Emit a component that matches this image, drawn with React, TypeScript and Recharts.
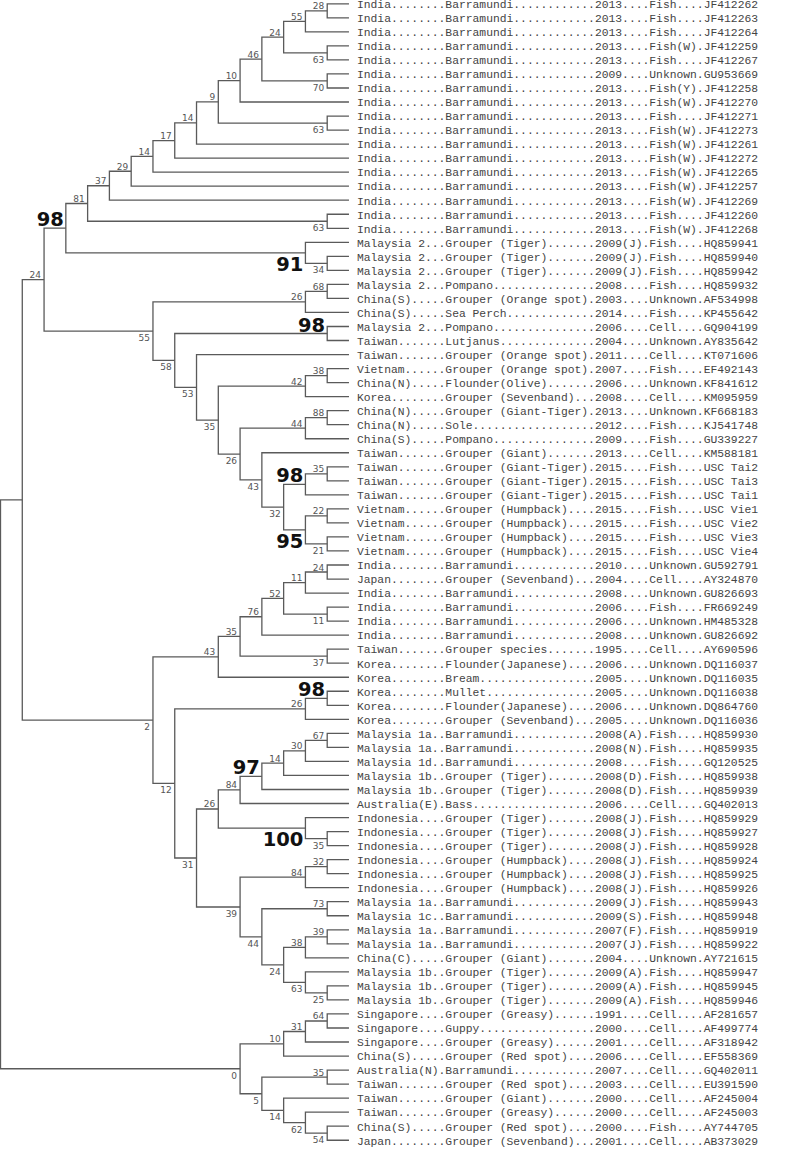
import React from "react";
import { Scatter, ScatterChart, XAxis, YAxis } from "recharts";

const W = 786;
const H = 1149;

// leaf labels, top to bottom (one entry per tip of the tree)
const countries = [
  "India", "India", "India", "India", "India", "India", "India", "India", "India",
  "India", "India", "India", "India", "India", "India", "India", "India",
  "Malaysia 2", "Malaysia 2", "Malaysia 2", "Malaysia 2", "China(S)", "China(S)",
  "Malaysia 2", "Taiwan", "Taiwan", "Vietnam", "China(N)", "Korea", "China(N)",
  "China(N)", "China(S)", "Taiwan", "Taiwan", "Taiwan", "Taiwan",
  "Vietnam", "Vietnam", "Vietnam", "Vietnam",
  "India", "Japan", "India", "India", "India", "India", "Taiwan",
  "Korea", "Korea", "Korea", "Korea", "Korea",
  "Malaysia 1a", "Malaysia 1a", "Malaysia 1d", "Malaysia 1b", "Malaysia 1b", "Australia(E)",
  "Indonesia", "Indonesia", "Indonesia", "Indonesia", "Indonesia", "Indonesia",
  "Malaysia 1a", "Malaysia 1c", "Malaysia 1a", "Malaysia 1a", "China(C)",
  "Malaysia 1b", "Malaysia 1b", "Malaysia 1b",
  "Singapore", "Singapore", "Singapore", "China(S)", "Australia(N)",
  "Taiwan", "Taiwan", "Taiwan", "China(S)", "Japan",
];

const hosts = [
  "Barramundi", "Barramundi", "Barramundi", "Barramundi", "Barramundi", "Barramundi",
  "Barramundi", "Barramundi", "Barramundi", "Barramundi", "Barramundi", "Barramundi",
  "Barramundi", "Barramundi", "Barramundi", "Barramundi", "Barramundi",
  "Grouper (Tiger)", "Grouper (Tiger)", "Grouper (Tiger)",
  "Pompano", "Grouper (Orange spot)", "Sea Perch", "Pompano", "Lutjanus",
  "Grouper (Orange spot)", "Grouper (Orange spot)", "Flounder(Olive)", "Grouper (Sevenband)",
  "Grouper (Giant-Tiger)", "Sole", "Pompano", "Grouper (Giant)",
  "Grouper (Giant-Tiger)", "Grouper (Giant-Tiger)", "Grouper (Giant-Tiger)",
  "Grouper (Humpback)", "Grouper (Humpback)", "Grouper (Humpback)", "Grouper (Humpback)",
  "Barramundi", "Grouper (Sevenband)", "Barramundi", "Barramundi", "Barramundi", "Barramundi",
  "Grouper species", "Flounder(Japanese)", "Bream", "Mullet", "Flounder(Japanese)",
  "Grouper (Sevenband)",
  "Barramundi", "Barramundi", "Barramundi", "Grouper (Tiger)", "Grouper (Tiger)", "Bass",
  "Grouper (Tiger)", "Grouper (Tiger)", "Grouper (Tiger)",
  "Grouper (Humpback)", "Grouper (Humpback)", "Grouper (Humpback)",
  "Barramundi", "Barramundi", "Barramundi", "Barramundi", "Grouper (Giant)",
  "Grouper (Tiger)", "Grouper (Tiger)", "Grouper (Tiger)",
  "Grouper (Greasy)", "Guppy", "Grouper (Greasy)", "Grouper (Red spot)", "Barramundi",
  "Grouper (Red spot)", "Grouper (Giant)", "Grouper (Greasy)", "Grouper (Red spot)",
  "Grouper (Sevenband)",
];

const years = [
  "2013", "2013", "2013", "2013", "2013", "2009", "2013", "2013", "2013",
  "2013", "2013", "2013", "2013", "2013", "2013", "2013", "2013",
  "2009(J)", "2009(J)", "2009(J)",
  "2008", "2003", "2014", "2006", "2004", "2011", "2007", "2006", "2008",
  "2013", "2012", "2009", "2013",
  "2015", "2015", "2015", "2015", "2015", "2015", "2015",
  "2010", "2004", "2008", "2006", "2006", "2008", "1995",
  "2006", "2005", "2005", "2006", "2005",
  "2008(A)", "2008(N)", "2008", "2008(D)", "2008(D)", "2006",
  "2008(J)", "2008(J)", "2008(J)", "2008(J)", "2008(J)", "2008(J)",
  "2009(J)", "2009(S)", "2007(F)", "2007(J)", "2004",
  "2009(A)", "2009(A)", "2009(A)",
  "1991", "2000", "2001", "2006", "2007", "2003", "2000", "2000", "2000", "2001",
];

const sources = [
  "Fish", "Fish", "Fish", "Fish(W)", "Fish", "Unknown", "Fish(Y)", "Fish(W)", "Fish",
  "Fish(W)", "Fish(W)", "Fish(W)", "Fish(W)", "Fish(W)", "Fish(W)", "Fish", "Fish(W)",
  "Fish", "Fish", "Fish",
  "Fish", "Unknown", "Fish", "Cell", "Unknown", "Cell", "Fish", "Unknown", "Cell",
  "Unknown", "Fish", "Fish", "Cell",
  "Fish", "Fish", "Fish", "Fish", "Fish", "Fish", "Fish",
  "Unknown", "Cell", "Unknown", "Fish", "Unknown", "Unknown", "Cell",
  "Unknown", "Unknown", "Unknown", "Unknown", "Unknown",
  "Fish", "Fish", "Fish", "Fish", "Fish", "Cell",
  "Fish", "Fish", "Fish", "Fish", "Fish", "Fish",
  "Fish", "Fish", "Fish", "Fish", "Unknown",
  "Fish", "Fish", "Fish",
  "Cell", "Cell", "Cell", "Cell", "Cell", "Cell", "Cell", "Cell", "Fish", "Cell",
];

const accessions = [
  "JF412262", "JF412263", "JF412264", "JF412259", "JF412267", "GU953669", "JF412258",
  "JF412270", "JF412271", "JF412273", "JF412261", "JF412272", "JF412265", "JF412257",
  "JF412269", "JF412260", "JF412268",
  "HQ859941", "HQ859940", "HQ859942",
  "HQ859932", "AF534998", "KP455642", "GQ904199", "AY835642", "KT071606", "EF492143",
  "KF841612", "KM095959", "KF668183", "KJ541748", "GU339227", "KM588181",
  "USC Tai2", "USC Tai3", "USC Tai1", "USC Vie1", "USC Vie2", "USC Vie3", "USC Vie4",
  "GU592791", "AY324870", "GU826693", "FR669249", "HM485328", "GU826692", "AY690596",
  "DQ116037", "DQ116035", "DQ116038", "DQ864760", "DQ116036",
  "HQ859930", "HQ859935", "GQ120525", "HQ859938", "HQ859939", "GQ402013",
  "HQ859929", "HQ859927", "HQ859928", "HQ859924", "HQ859925", "HQ859926",
  "HQ859943", "HQ859948", "HQ859919", "HQ859922", "AY721615",
  "HQ859947", "HQ859945", "HQ859946",
  "AF281657", "AF499774", "AF318942", "EF558369", "GQ402011",
  "EU391590", "AF245004", "AF245003", "AY744705", "AB373029",
];

// tree: n(level, bootstrap, ...children); numbers are leaf indices
type TreeNode = { lvl: number; bs: number | null; kids: (number | TreeNode)[] };
const n = (lvl: number, bs: number | null, ...kids: (number | TreeNode)[]): TreeNode => ({ lvl, bs, kids });

// India barramundi ladder
const indiaClade = n(4, 81,
  n(5, 37,
    n(6, 29,
      n(7, 14,
        n(8, 17,
          n(9, 14,
            n(10, 9,
              n(11, 10,
                n(12, 46,
                  n(13, 24,
                    n(14, 55, n(15, 28, 0, 1), 2),
                    n(15, 63, 3, 4)),
                  n(15, 70, 5, 6)),
                7),
              n(15, 63, 8, 9)),
            10),
          11),
        12),
      13),
    14),
  n(15, 63, 15, 16));

const groupA = n(7, 55,
  n(14, 26, n(15, 68, 20, 21), 22),
  n(8, 58,
    n(15, 98, 23, 24),
    n(9, 53,
      25,
      n(10, 35,
        n(14, 42, n(15, 38, 26, 27), 28),
        n(11, 26,
          n(14, 44, n(15, 88, 29, 30), 31),
          n(12, 43,
            32,
            n(13, 32,
              n(14, 98, n(15, 35, 33, 34), 35),
              n(14, 95, n(15, 22, 36, 37), n(15, 21, 38, 39)))))))));

const groupB = n(10, 43,
  n(11, 35,
    n(12, 76,
      n(13, 52,
        n(14, 11, n(15, 24, 40, 41), 42),
        n(15, 11, 43, 44)),
      45),
    n(15, 37, 46, 47)),
  48);

const groupC = n(8, 12,
  n(14, 26, n(15, 98, 49, 50), 51),
  n(9, 31,
    n(10, 26,
      n(11, 84,
        n(12, 97,
          n(13, 14,
            n(14, 30, n(15, 67, 52, 53), 54),
            55),
          56),
        57),
      n(14, 100, 58, n(15, 35, 59, 60))),
    n(11, 39,
      n(14, 84, n(15, 32, 61, 62), 63),
      n(12, 44,
        n(15, 73, 64, 65),
        n(13, 24,
          n(14, 38, n(15, 39, 66, 67), 68),
          n(14, 63, 69, n(15, 25, 70, 71)))))));

const groupD = n(11, 0,
  n(13, 10, n(14, 31, n(15, 64, 72, 73), 74), 75),
  n(12, 5,
    n(15, 35, 76, 77),
    n(13, 14, 78, n(14, 62, 79, n(15, 54, 80, 81)))));

const tree = n(0, null,
  n(1, null,
    n(2, 24,
      n(3, 98, indiaClade, n(14, 91, 17, n(15, 34, 18, 19))),
      groupA),
    n(7, 2, groupB, groupC)),
  groupD);

const LEAF_LVL = 16;
// axis windows: 21.78px per level, 14.03px per leaf row
const X_DOMAIN = [-0.023, 36.065];
const Y_DOMAIN = [-0.271, 81.625];

type Pt = { x: number; y: number };
const elbows: Pt[][] = [];
const supports: { x: number; y: number; bs: number; upper: boolean }[] = [];

function place(node: number | TreeNode, upper: boolean): Pt {
  if (typeof node === "number") return { x: LEAF_LVL, y: node };
  const pts = node.kids.map((k, j) => place(k, j === 0));
  const a = pts[0];
  const b = pts[pts.length - 1];
  const y = (a.y + b.y) / 2;
  elbows.push([
    { x: a.x, y: a.y },
    { x: node.lvl, y: a.y },
    { x: node.lvl, y: b.y },
    { x: b.x, y: b.y },
  ]);
  if (node.bs !== null) supports.push({ x: node.lvl, y, bs: node.bs, upper });
  return { x: node.lvl, y };
}
place(tree, true);

const dots = (s: string, w: number) => s + ".".repeat(Math.max(0, w - s.length));
const leaves = accessions.map((acc, i) => ({
  x: LEAF_LVL,
  y: i,
  label:
    dots(countries[i], 13) + dots(hosts[i], 22) + dots(years[i], 8) + dots(sources[i], 8) + acc,
}));

const LeafLabel = (props: any) => (
  <text
    x={props.cx + 8}
    y={props.cy + 4.3}
    fontFamily="'Liberation Mono', 'DejaVu Sans Mono', monospace"
    fontSize={11.33}
    fill="#444"
  >
    {props.payload.label}
  </text>
);

const SupportLabel = (props: any) => {
  const { bs, upper } = props.payload;
  const big = bs >= 90;
  return (
    <text
      x={props.cx - (big ? 2 : 3)}
      y={upper ? props.cy - (big ? 2 : 1.5) : props.cy + (big ? 18 : 10)}
      textAnchor="end"
      fontFamily="'DejaVu Sans', sans-serif"
      fontSize={big ? 19.5 : 9}
      fontWeight={big ? "bold" : "normal"}
      fill={big ? "#111" : "#555"}
    >
      {bs}
    </text>
  );
};

export default function App() {
  return (
    <div style={{ position: "absolute", left: 0, top: 0, background: "#fff" }}>
      <ScatterChart width={W} height={H} margin={{ top: 0, right: 0, bottom: 0, left: 0 }}>
        <XAxis type="number" dataKey="x" domain={X_DOMAIN} hide allowDataOverflow />
        <YAxis type="number" dataKey="y" domain={Y_DOMAIN} reversed hide allowDataOverflow />
        {elbows.map((pts, i) => (
          <Scatter
            key={i}
            data={pts}
            line={{ stroke: "#5a5a5a", strokeWidth: 1.3 }}
            shape={() => <g />}
            isAnimationActive={false}
          />
        ))}
        <Scatter data={leaves} shape={LeafLabel} isAnimationActive={false} />
        <Scatter data={supports} shape={SupportLabel} isAnimationActive={false} />
      </ScatterChart>
    </div>
  );
}
